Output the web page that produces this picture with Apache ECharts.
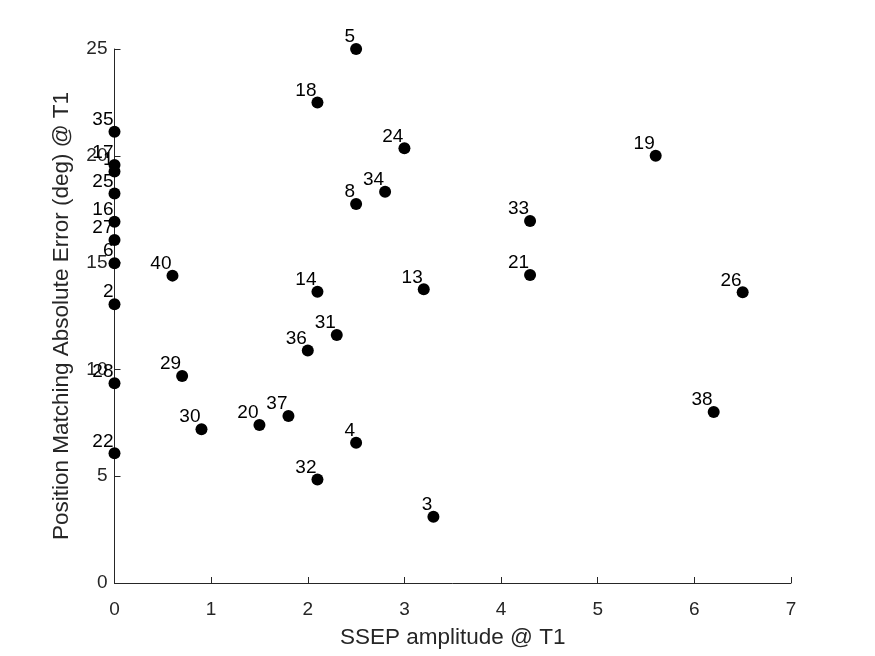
<!DOCTYPE html>
<html>
<head>
<meta charset="utf-8">
<script src="https://cdn.jsdelivr.net/npm/echarts@6/dist/echarts.min.js"></script>
<style>
  html, body { margin: 0; padding: 0; background: #fff; }
  #chart { width: 875px; height: 656px; }
</style>
</head>
<body>
<div id="chart"></div>
<script>
// ==================== 数据 ====================
const subjects = ['2', '3', '4', '5', '6', '8', '13', '14', '16', '17', '1', '18', '19', '20', '21', '22',
  '24', '25', '26', '27', '28', '29', '30', '31', '32', '33', '34', '35', '36', '37', '38', '40']
const ssepAmp = [0, 3.3, 2.5, 2.5, 0, 2.5, 3.2, 2.1, 0, 0, 0, 2.1, 5.6, 1.5, 4.3, 0,
  3.0, 0, 6.5, 0, 0, 0.7, 0.9, 2.3, 2.1, 4.3, 2.8, 0, 2.0, 1.8, 6.2, 0.6]
const posError = [13.05, 3.1, 6.57, 25.0, 14.97, 17.74, 13.75, 13.64, 16.91, 19.57, 19.26, 22.49, 20.0, 7.4, 14.42, 6.07,
  20.35, 18.24, 13.61, 16.06, 9.35, 9.69, 7.2, 11.61, 4.85, 16.95, 18.32, 21.13, 10.88, 7.82, 8.01, 14.39]

const font = "'Liberation Sans', Arial, Helvetica, sans-serif"
const axisColor = '#262626'

// ==================== 散点图 ====================
const chart = echarts.init(document.getElementById('chart'))

chart.setOption({
  animation: false,
  textStyle: { fontFamily: font },
  grid: {
    left: 114.5,
    top: 49,
    right: 84,
    bottom: 73,
  },
  xAxis: {
    type: 'value',
    min: 0,
    max: 7,
    interval: 1,
    name: 'SSEP amplitude @ T1',
    nameLocation: 'middle',
    nameGap: 43,
    nameTextStyle: { fontSize: 22.5, color: axisColor, fontFamily: font },
    axisLine: { show: true, lineStyle: { color: axisColor, width: 1 } },
    axisTick: { show: true, inside: true, length: 6, lineStyle: { color: axisColor } },
    axisLabel: { fontSize: 19, color: axisColor, margin: 17, fontFamily: font },
    splitLine: { show: false },
  },
  yAxis: {
    type: 'value',
    min: 0,
    max: 25,
    interval: 5,
    name: 'Position Matching Absolute Error (deg) @ T1',
    nameLocation: 'middle',
    nameGap: 41.5,
    nameTextStyle: { fontSize: 22.5, color: axisColor, fontFamily: font },
    axisLine: { show: true, lineStyle: { color: axisColor, width: 1 } },
    axisTick: { show: true, inside: true, length: 6, lineStyle: { color: axisColor } },
    axisLabel: { fontSize: 19, color: axisColor, margin: 7, fontFamily: font },
    splitLine: { show: false },
  },
  series: [
    {
      type: 'scatter',
      clip: false,
      symbol: 'circle',
      symbolSize: 12,
      itemStyle: { color: '#000', opacity: 1 },
      data: subjects.map((name, i) => ({ name, value: [ssepAmp[i], posError[i]] })),
      label: {
        show: true,
        formatter: '{b}',
        position: [5, 3.5],
        align: 'right',
        verticalAlign: 'bottom',
        fontSize: 19,
        color: '#000',
        fontFamily: font,
      },
      labelLayout: { hideOverlap: false },
    },
  ],
})
</script>
</body>
</html>
